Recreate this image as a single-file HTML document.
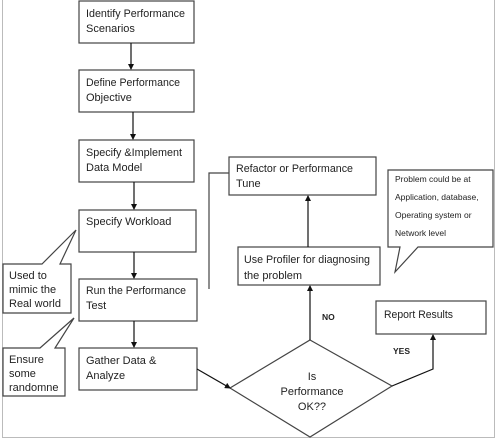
<!DOCTYPE html>
<html><head><style>
html,body{margin:0;padding:0;background:#fff;}
svg{display:block;}
text{font-family:"Liberation Sans",Arial,sans-serif;fill:#222;}
.b{font-size:11px;}
.s{font-size:8.5px;}
</style></head><body>
<svg width="496" height="442" viewBox="0 0 496 442" xmlns="http://www.w3.org/2000/svg">
<defs><marker id="a" markerWidth="6" markerHeight="6" refX="5" refY="3" orient="auto" markerUnits="userSpaceOnUse"><path d="M0,0 L6,3 L0,6z" fill="#111"/></marker></defs>
<g fill="none" stroke="#bbb" stroke-width="1">
<line x1="2.5" y1="0" x2="2.5" y2="438"/>
<line x1="494.5" y1="0" x2="494.5" y2="438"/>
<line x1="2" y1="437.5" x2="494" y2="437.5"/>
</g>
<g fill="#fff" stroke="#444" stroke-width="1.2">
<rect x="79" y="1" width="115" height="42"/>
<rect x="79" y="70" width="115" height="42"/>
<rect x="79" y="140" width="115" height="42"/>
<rect x="79" y="210" width="117" height="42"/>
<rect x="79" y="279" width="118" height="42"/>
<rect x="79" y="348" width="118" height="42"/>
<rect x="229" y="157" width="147" height="38"/>
<rect x="238" y="247" width="142" height="38"/>
<rect x="376" y="301" width="110" height="33"/>
<path d="M310,340 L392,386 L310,437 L230,388 Z"/>
<path d="M3,264 L42,264 L76,230 L60,264 L71,264 L71,313 L3,313 Z"/>
<path d="M3,348 L40,348 L74,318 L55,348 L65,348 L65,396 L3,396 Z"/>
<path d="M388,170 L493,170 L493,247 L418,247 L395,272 L400,247 L388,247 Z"/>
</g>
<g stroke="#111" stroke-width="1.2" fill="none">
<line x1="131" y1="43" x2="131" y2="69" marker-end="url(#a)"/>
<line x1="133" y1="112" x2="133" y2="139" marker-end="url(#a)"/>
<line x1="134" y1="182" x2="134" y2="209" marker-end="url(#a)"/>
<line x1="134" y1="252" x2="134" y2="278" marker-end="url(#a)"/>
<line x1="134" y1="321" x2="134" y2="347" marker-end="url(#a)"/>
<line x1="197" y1="369" x2="230" y2="388" marker-end="url(#a)"/>
<line x1="310" y1="340" x2="310" y2="286" marker-end="url(#a)"/>
<line x1="308" y1="247" x2="308" y2="196" marker-end="url(#a)"/>
<polyline points="392,386 433,369 433,335" marker-end="url(#a)"/>
<polyline points="209,289 209,173 229,173" stroke="#444"/>
</g>
<text class="b" x="86" y="17" textLength="99" lengthAdjust="spacingAndGlyphs">Identify Performance</text>
<text class="b" x="86" y="32">Scenarios</text>
<text class="b" x="86" y="86" textLength="94" lengthAdjust="spacingAndGlyphs">Define Performance</text>
<text class="b" x="86" y="101">Objective</text>
<text class="b" x="86" y="156" textLength="96" lengthAdjust="spacingAndGlyphs">Specify &amp;Implement</text>
<text class="b" x="86" y="171">Data Model</text>
<text class="b" x="86" y="225">Specify Workload</text>
<text class="b" x="86" y="294" textLength="100" lengthAdjust="spacingAndGlyphs">Run the Performance</text>
<text class="b" x="86" y="309">Test</text>
<text class="b" x="86" y="364">Gather Data &amp;</text>
<text class="b" x="86" y="379">Analyze</text>
<text class="b" x="9" y="279">Used to</text>
<text class="b" x="9" y="293">mimic the</text>
<text class="b" x="9" y="307">Real world</text>
<text class="b" x="9" y="363">Ensure</text>
<text class="b" x="9" y="377">some</text>
<text class="b" x="9" y="391">randomne</text>
<text class="b" x="236" y="172" textLength="117" lengthAdjust="spacingAndGlyphs">Refactor or Performance</text>
<text class="b" x="236" y="187">Tune</text>
<text class="b" x="244" y="263" textLength="126" lengthAdjust="spacingAndGlyphs">Use Profiler for diagnosing</text>
<text class="b" x="244" y="279">the problem</text>
<text class="b" x="384" y="318" textLength="69" lengthAdjust="spacingAndGlyphs">Report Results</text>
<text class="b" x="312" y="380" text-anchor="middle">Is</text>
<text class="b" x="312" y="395" text-anchor="middle">Performance</text>
<text class="b" x="312" y="410" text-anchor="middle">OK??</text>
<text class="s" x="322" y="320" font-weight="bold">NO</text>
<text class="s" x="393" y="354" font-weight="bold">YES</text>
<text class="s" x="395" y="182">Problem could be at</text>
<text class="s" x="395" y="200">Application, database,</text>
<text class="s" x="395" y="218">Operating system or</text>
<text class="s" x="395" y="236">Network level</text>
</svg>
</body></html>
